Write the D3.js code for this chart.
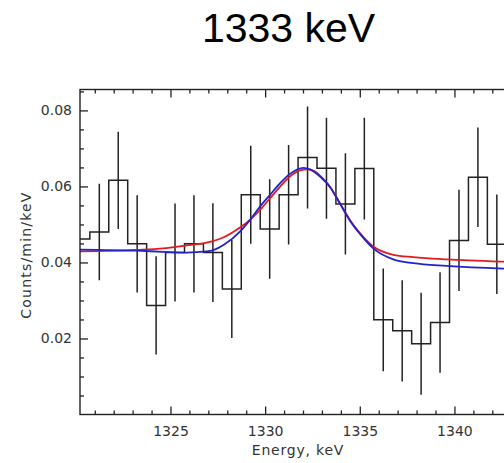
<meta charset="utf-8" />
<script src="https://d3js.org/d3.v7.min.js"></script>
<style>
  body { margin: 0; background: #fff; overflow: hidden; }
  svg text { font-family: "DejaVu Sans", sans-serif; fill: #333; }
  .axis path { display: none; }
  .axis line { stroke: #222; stroke-width: 1.3; }
  .title { font-family: "Liberation Sans", Arial, sans-serif !important; fill: #000 !important; }
</style>
<svg width="504" height="463"></svg>
<script>
  // histogram bins (bin centres, keV) and counts/min/keV with 1-sigma errors
  var binCenters = [1320.24, 1321.24, 1322.24, 1323.24, 1324.24, 1325.24, 1326.24, 1327.24,
    1328.24, 1329.24, 1330.24, 1331.24, 1332.24, 1333.24, 1334.24, 1335.24, 1336.24,
    1337.24, 1338.24, 1339.24, 1340.24, 1341.24, 1342.24];
  var counts = [0.0462, 0.0480, 0.0616, 0.0449, 0.0287, 0.0426, 0.0449, 0.0426,
    0.0330, 0.0578, 0.0488, 0.0578, 0.0676, 0.0648, 0.0554, 0.0647, 0.0249,
    0.0220, 0.0186, 0.0242, 0.0458, 0.0624, 0.0448];
  var errors = [null, 0.0127, 0.0128, 0.0128, 0.0129, 0.0129, 0.0128, 0.0130,
    0.0129, 0.0129, 0.0131, 0.0131, 0.0134, 0.0133, 0.0133, 0.0134, 0.0135,
    0.0133, 0.0134, 0.0132, 0.0133, 0.0131, 0.0131];

  // fit curves
  var redE = [1320.22, 1323.21, 1324.62, 1325.86, 1326.91, 1327.84, 1328.67, 1329.20, 1329.73,
    1330.26, 1330.78, 1331.31, 1331.84, 1332.21, 1332.63, 1332.90, 1333.43, 1333.95,
    1334.48, 1335.01, 1335.71, 1336.77, 1337.83, 1339.59, 1342.58, 1344.0];
  var redV = [0.0429, 0.0433, 0.0437, 0.0445, 0.0452, 0.0467, 0.0492, 0.0512, 0.0538,
    0.0569, 0.0599, 0.0626, 0.0642, 0.0645, 0.0640, 0.0628, 0.0599, 0.0556,
    0.0512, 0.0477, 0.0442, 0.0420, 0.0414, 0.0408, 0.0402, 0.0400];
  var blueE = [1320.22, 1323.21, 1324.62, 1325.86, 1326.91, 1327.40, 1327.84, 1328.67, 1329.20,
    1329.73, 1330.26, 1330.78, 1331.31, 1332.02, 1332.37, 1332.90, 1333.43, 1333.95,
    1334.48, 1335.01, 1335.71, 1336.77, 1337.83, 1339.59, 1342.58, 1344.0];
  var blueV = [0.0434, 0.0431, 0.0428, 0.0426, 0.0429, 0.0435, 0.0447, 0.0481, 0.0512,
    0.0547, 0.0578, 0.0608, 0.0633, 0.0649, 0.0645, 0.0626, 0.0598, 0.0555,
    0.0510, 0.0475, 0.0437, 0.0408, 0.0398, 0.0391, 0.0384, 0.0382];

  var xMajor = [1325, 1330, 1335, 1340];
  var yMajor = [0.02, 0.04, 0.06, 0.08];

  var svg = d3.select("svg");
  var pLeft = 80, pTop = 89.5, pBottom = 414.5;
  var x = d3.scaleLinear().domain([1320.22, 1344]).range([pLeft, pLeft + 23.78 * 18.93]);
  var y = d3.scaleLinear().domain([0, 0.0855]).range([pBottom, pTop]);
  var pRight = x.range()[1];

  svg.append("text").attr("class", "title")
    .attr("x", 288.5).attr("y", 41.5)
    .attr("text-anchor", "middle")
    .style("font-size", "41px")
    .text("1333 keV");

  svg.append("clipPath").attr("id", "clip")
    .append("rect").attr("x", pLeft).attr("y", pTop)
    .attr("width", pRight - pLeft).attr("height", pBottom - pTop);

  var plot = svg.append("g").attr("clip-path", "url(#clip)");

  // histogram as steps
  var stepPts = binCenters.map(function (c, i) { return [c - 0.5, counts[i]]; });
  stepPts.push([binCenters[binCenters.length - 1] + 0.5, counts[counts.length - 1]]);
  plot.append("path")
    .datum(stepPts)
    .attr("fill", "none")
    .attr("stroke", "#222")
    .attr("stroke-width", 1.5)
    .attr("d", d3.line().curve(d3.curveStepAfter)
      .x(function (d) { return x(d[0]); })
      .y(function (d) { return y(d[1]); }));

  // error bars
  plot.selectAll(".err")
    .data(binCenters.map(function (c, i) { return { e: c, v: counts[i], s: errors[i] }; })
      .filter(function (d) { return d.s != null; }))
    .enter().append("line")
    .attr("class", "err")
    .attr("x1", function (d) { return x(d.e); })
    .attr("x2", function (d) { return x(d.e); })
    .attr("y1", function (d) { return y(d.v - d.s); })
    .attr("y2", function (d) { return y(d.v + d.s); })
    .attr("stroke", "#222")
    .attr("stroke-width", 1.5);

  var fit = d3.line().curve(d3.curveMonotoneX)
    .x(function (d) { return x(d[0]); })
    .y(function (d) { return y(d[1]); });

  plot.append("path")
    .datum(redE.map(function (e, i) { return [e, redV[i]]; }))
    .attr("fill", "none").attr("stroke", "#e41a1c").attr("stroke-width", 1.8)
    .attr("d", fit);
  plot.append("path")
    .datum(blueE.map(function (e, i) { return [e, blueV[i]]; }))
    .attr("fill", "none").attr("stroke", "#2222cc").attr("stroke-width", 1.8)
    .attr("d", fit);

  // axes
  var xMinor = d3.range(1321, 1344).filter(function (d) { return xMajor.indexOf(d) < 0; });
  var yMinor = d3.range(1, 18).map(function (i) { return +(i * 0.005).toFixed(3); })
    .filter(function (d) { return yMajor.indexOf(d) < 0; });

  svg.append("g").attr("class", "axis")
    .attr("transform", "translate(0," + pBottom + ")")
    .call(d3.axisBottom(x).tickValues(xMajor).tickSize(-8).tickPadding(12).tickFormat(d3.format("d")))
    .selectAll("text").style("font-size", "14px");
  svg.append("g").attr("class", "axis")
    .attr("transform", "translate(0," + pBottom + ")")
    .call(d3.axisBottom(x).tickValues(xMinor).tickSize(-4).tickFormat(""));
  svg.append("g").attr("class", "axis")
    .attr("transform", "translate(0," + pTop + ")")
    .call(d3.axisTop(x).tickValues(xMajor).tickSize(-8).tickFormat(""));
  svg.append("g").attr("class", "axis")
    .attr("transform", "translate(0," + pTop + ")")
    .call(d3.axisTop(x).tickValues(xMinor).tickSize(-4).tickFormat(""));

  svg.append("g").attr("class", "axis")
    .attr("transform", "translate(" + pLeft + ",0)")
    .call(d3.axisLeft(y).tickValues(yMajor).tickSize(-8).tickPadding(8).tickFormat(d3.format(".2f")))
    .selectAll("text").style("font-size", "14px");
  svg.append("g").attr("class", "axis")
    .attr("transform", "translate(" + pLeft + ",0)")
    .call(d3.axisLeft(y).tickValues(yMinor).tickSize(-4).tickFormat(""));

  // frame
  svg.append("rect")
    .attr("x", pLeft).attr("y", pTop)
    .attr("width", pRight - pLeft).attr("height", pBottom - pTop)
    .attr("fill", "none").attr("stroke", "#222").attr("stroke-width", 1.4);

  svg.append("text")
    .attr("x", 298).attr("y", 455)
    .attr("text-anchor", "middle")
    .style("font-size", "14px").style("letter-spacing", "0.8px")
    .text("Energy, keV");

  svg.append("text")
    .attr("transform", "translate(31,255) rotate(-90)")
    .attr("text-anchor", "middle")
    .style("font-size", "14px").style("letter-spacing", "1.2px")
    .text("Counts/min/keV");
</script>
